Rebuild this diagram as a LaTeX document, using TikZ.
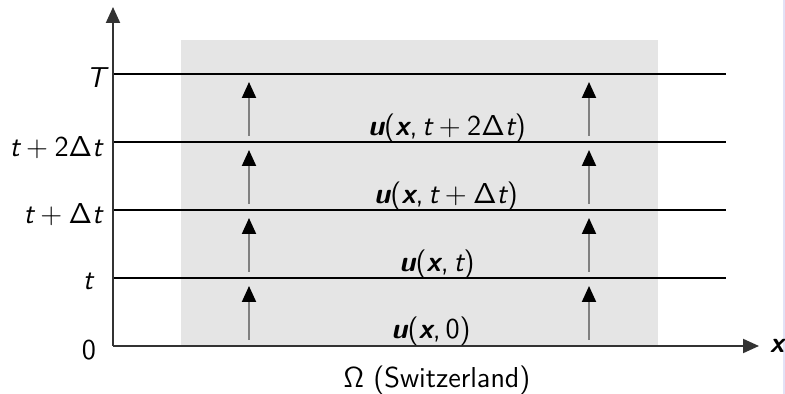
\documentclass[tikz,border=0pt]{standalone}
\usepackage{amsmath}
\usepackage{sfmath}
\usetikzlibrary{arrows.meta}
% sans glyphs for math: slanted variables, bold slanted vectors, upright symbols
\newcommand{\vr}[1]{\text{\sffamily\mdseries\slshape #1}}
\newcommand{\vb}[1]{\text{\sffamily\bfseries\slshape #1}}
\newcommand{\up}[1]{\text{\sffamily\mdseries\upshape #1}}
\newcommand{\lp}{\mathopen{\up{(}}}
\newcommand{\rp}{\mathclose{\up{)}}}
\newcommand{\cm}{\mathpunct{\up{,}}}
\newcommand{\pl}{\mathbin{\up{+}}}
\begin{document}
\begin{tikzpicture}[x=0.5pt,y=-0.5pt,font=\Large\sffamily,
  axis/.style={draw=black!80,line width=1pt,-{Triangle[length=8pt,width=7pt]}},
  level/.style={draw=black,line width=0.55pt},
  advance/.style={draw=black!50,line width=1pt,-{Triangle[length=8pt,width=7pt,black]}},
  lbl/.style={anchor=base,inner sep=0pt}]
  \useasboundingbox (0,0) rectangle (785,394);
  % page edge strip
  \fill[fill={rgb,255:red,226;green,226;blue,246}] (783,0) rectangle (785,394);
  % spatial domain
  \fill[black!10] (181,40) rectangle (658,346);
  % time levels
  \foreach \i/\y in {0/346,1/278,2/210,3/142,4/74}{
    \coordinate (L\i) at (113,\y);
    \coordinate (R\i) at (726,\y);
  }
  \foreach \i in {1,2,3,4}{ \draw[level] (L\i) -- (R\i); }
  % time stepping arrows
  \foreach \i/\yl/\yh in {0/346/278,1/278/210,2/210/142,3/142/74}{
    \foreach \x in {249,589}{
      \coordinate (s\x-\i) at (\x,\yl-6);
      \coordinate (e\x-\i) at (\x,\yh+8);
      \draw[advance] (s\x-\i) -- (e\x-\i);
    }
  }
  % axes
  \coordinate (O) at (113,346);
  \coordinate (ytop) at (113,7);
  \coordinate (xend) at (759,346);
  \draw[axis] (O) -- (ytop);
  \draw[axis] (O) -- (xend);
  % time labels
  \node[lbl] (tT) at (96,88) {$\vr{T}$};
  \node[lbl] (t2) at (56,157) {$\vr{t}\pl\up{2}\Delta\vr{t}$};
  \node[lbl] (t1) at (63,224) {$\vr{t}\pl\Delta\vr{t}$};
  \node[lbl] (t0) at (88,290) {$\vr{t}$};
  \node[lbl] (z0) at (89,359) {$\up{0}$};
  % solution labels
  \node[lbl] (u0) at (431,339) {$\vb{u}\lp\vb{x}\cm\up{0}\rp$};
  \node[lbl] (u1) at (437,272) {$\vb{u}\lp\vb{x}\cm\vr{t}\rp$};
  \node[lbl] (u2) at (446,204) {$\vb{u}\lp\vb{x}\cm\vr{t}\pl\Delta\vr{t}\rp$};
  \node[lbl] (u3) at (447,136) {$\vb{u}\lp\vb{x}\cm\vr{t}\pl\up{2}\Delta\vr{t}\rp$};
  % axis labels
  \node[lbl] (xl) at (777,352) {$\vb{x}$};
  \node[lbl] (om) at (437,387) {$\Omega$ (Switzerland)};
\end{tikzpicture}
\end{document}
